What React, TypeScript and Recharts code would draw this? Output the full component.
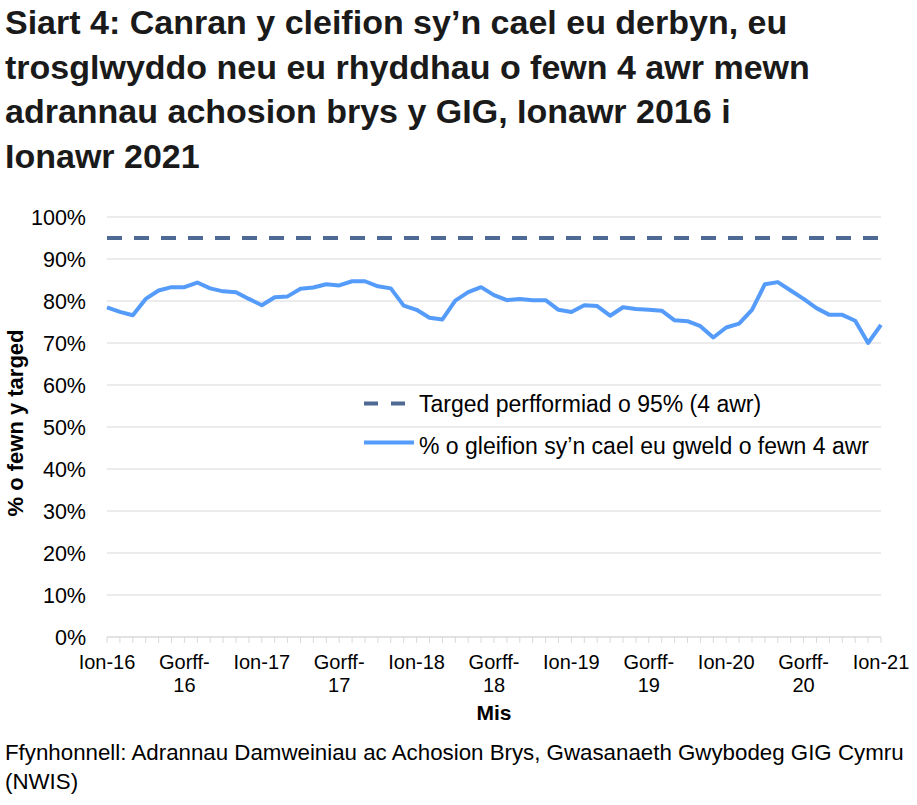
import React from "react";
import { LineChart, Line, XAxis, YAxis, CartesianGrid, ReferenceLine } from "recharts";

const MONTHS = [
  "Ion-16", "Chwef-16", "Maw-16", "Ebr-16", "Mai-16", "Meh-16", "Gorff-16", "Awst-16", "Medi-16", "Hyd-16", "Tach-16", "Rhag-16",
  "Ion-17", "Chwef-17", "Maw-17", "Ebr-17", "Mai-17", "Meh-17", "Gorff-17", "Awst-17", "Medi-17", "Hyd-17", "Tach-17", "Rhag-17",
  "Ion-18", "Chwef-18", "Maw-18", "Ebr-18", "Mai-18", "Meh-18", "Gorff-18", "Awst-18", "Medi-18", "Hyd-18", "Tach-18", "Rhag-18",
  "Ion-19", "Chwef-19", "Maw-19", "Ebr-19", "Mai-19", "Meh-19", "Gorff-19", "Awst-19", "Medi-19", "Hyd-19", "Tach-19", "Rhag-19",
  "Ion-20", "Chwef-20", "Maw-20", "Ebr-20", "Mai-20", "Meh-20", "Gorff-20", "Awst-20", "Medi-20", "Hyd-20", "Tach-20", "Rhag-20",
  "Ion-21",
];

const PERCENT_SEEN = [
  78.5, 77.4, 76.6, 80.5, 82.5, 83.3, 83.3, 84.4, 83.0, 82.3, 82.1, 80.5,
  79.0, 80.9, 81.1, 82.9, 83.2, 84.0, 83.7, 84.7, 84.7, 83.5, 83.0, 78.9,
  77.9, 76.0, 75.6, 80.1, 82.1, 83.3, 81.4, 80.2, 80.5, 80.2, 80.2, 77.9,
  77.4, 79.0, 78.8, 76.5, 78.5, 78.1, 77.9, 77.7, 75.4, 75.2, 74.0, 71.3,
  73.7, 74.6, 77.9, 84.0, 84.5, 82.5, 80.5, 78.3, 76.7, 76.7, 75.3, 70.0,
  74.3,
];

const TARGET = 95;
const Y_TICKS = [0, 10, 20, 30, 40, 50, 60, 70, 80, 90, 100];
const LABEL_EVERY = 6;

const TITLE_LINES = [
  "Siart 4: Canran y cleifion sy’n cael eu derbyn, eu",
  "trosglwyddo neu eu rhyddhau o fewn 4 awr mewn",
  "adrannau achosion brys y GIG, Ionawr 2016 i",
  "Ionawr 2021",
];
const LEGEND_TARGET = "Targed perfformiad o 95% (4 awr)";
const LEGEND_SERIES = "% o gleifion sy’n cael eu gweld o fewn 4 awr";
const Y_TITLE = "% o fewn y targed";
const X_TITLE = "Mis";
const SOURCE_LINES = [
  "Ffynhonnell: Adrannau Damweiniau ac Achosion Brys, Gwasanaeth Gwybodeg GIG Cymru",
  "(NWIS)",
];

const data = MONTHS.map((m, i) => ({ month: m, value: PERCENT_SEEN[i] }));

const FONT = "'Liberation Sans', Arial, sans-serif";
const TARGET_COLOR = "#4D6994";
const LINE_COLOR = "#559CFA";
const GRID_COLOR = "#D9D9D9";

const XTick = (props: any) => {
  const { x, y, payload, index } = props;
  const i = payload && typeof payload.index === "number" ? payload.index : index;
  if (i % LABEL_EVERY !== 0) return <g />;
  const label: string = payload.value;
  let lines = [label];
  if (label.length > 6) {
    const k = label.indexOf("-");
    lines = [label.slice(0, k + 1), label.slice(k + 1)];
  }
  return (
    <g>
      {lines.map((l, j) => (
        <text
          key={j}
          x={x}
          y={y + 24 + j * 23}
          textAnchor="middle"
          fontSize={20}
          fontFamily={FONT}
          fill="#000"
        >
          {l}
        </text>
      ))}
    </g>
  );
};

export default function App() {
  return (
    <div style={{ position: "absolute", left: 0, top: 0, width: 917, height: 805, background: "#fff" }}>
      <LineChart
        width={917}
        height={805}
        data={data}
        margin={{ top: 217, right: 36, bottom: 108, left: 27 }}
      >
        <CartesianGrid vertical={false} stroke={GRID_COLOR} strokeWidth={1} />
        <XAxis
          dataKey="month"
          scale="point"
          interval={0}
          height={60}
          tickSize={6}
          tickLine={{ stroke: GRID_COLOR }}
          axisLine={{ stroke: GRID_COLOR }}
          tick={<XTick />}
        />
        <YAxis
          width={80}
          domain={[0, 100]}
          ticks={Y_TICKS}
          interval={0}
          axisLine={false}
          tickLine={false}
          tickMargin={15}
          tickFormatter={(v: number) => `${v}%`}
          tick={{ fontSize: 21.5, fontFamily: FONT, fill: "#000" }}
        />
        <ReferenceLine
          y={TARGET}
          stroke={TARGET_COLOR}
          strokeWidth={4}
          strokeDasharray="15 12"
          ifOverflow="extendDomain"
        />
        <Line
          type="linear"
          dataKey="value"
          stroke={LINE_COLOR}
          strokeWidth={4}
          strokeLinejoin="round"
          dot={false}
          activeDot={false}
          isAnimationActive={false}
        />
      </LineChart>
      <svg
        width={917}
        height={805}
        style={{ position: "absolute", left: 0, top: 0, pointerEvents: "none" }}
      >
        {TITLE_LINES.map((t, i) => (
          <text key={i} x={5} y={34 + i * 44.6} fontSize={34} fontWeight="bold" fontFamily={FONT} fill="#1a1a1a">
            {t}
          </text>
        ))}
        <text
          transform="translate(23,423) rotate(-90)"
          textAnchor="middle"
          fontSize={22}
          fontWeight="bold"
          fontFamily={FONT}
          fill="#000"
        >
          {Y_TITLE}
        </text>
        <text x={494} y={720} textAnchor="middle" fontSize={21} fontWeight="bold" fontFamily={FONT} fill="#000">
          {X_TITLE}
        </text>
        <line x1={364} y1={403.5} x2={405} y2={403.5} stroke={TARGET_COLOR} strokeWidth={4} strokeDasharray="14 13" />
        <text x={419} y={412} fontSize={23} fontFamily={FONT} fill="#000">
          {LEGEND_TARGET}
        </text>
        <line x1={364} y1={442.5} x2={414} y2={442.5} stroke={LINE_COLOR} strokeWidth={4} />
        <text x={419} y={454} fontSize={23} fontFamily={FONT} fill="#000">
          {LEGEND_SERIES}
        </text>
        {SOURCE_LINES.map((t, i) => (
          <text key={i} x={5} y={760 + i * 29} fontSize={22.3} fontFamily={FONT} fill="#000">
            {t}
          </text>
        ))}
      </svg>
    </div>
  );
}
